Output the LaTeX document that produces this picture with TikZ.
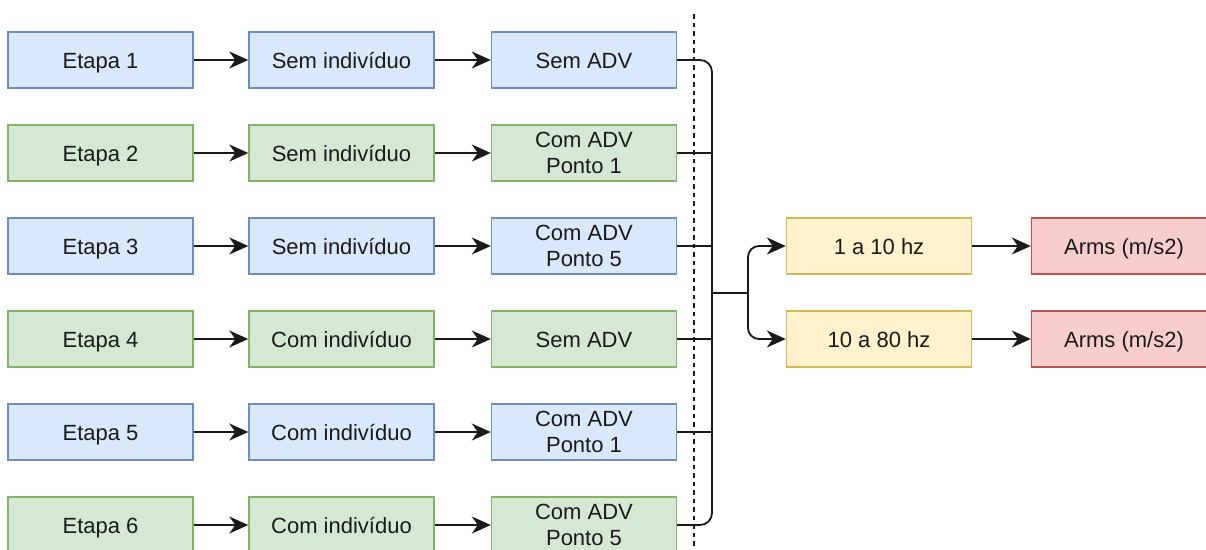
\documentclass[tikz,border=0pt]{standalone}
\usepackage{fontspec}
\setmainfont{Liberation Sans}
\usetikzlibrary{arrows.meta}

\definecolor{bluefill}{HTML}{DAE8FC}
\definecolor{bluedraw}{HTML}{6C8EBF}
\definecolor{greenfill}{HTML}{D5E8D4}
\definecolor{greendraw}{HTML}{82B366}
\definecolor{yellowfill}{HTML}{FFF2CC}
\definecolor{yellowdraw}{HTML}{D6B656}
\definecolor{redfill}{HTML}{F8CECC}
\definecolor{reddraw}{HTML}{B85450}
\definecolor{ink}{HTML}{1A1A1A}

\tikzset{
  box/.style={rectangle, minimum width=185pt, minimum height=56pt, inner sep=0pt,
    line width=1.4pt, align=center, text=ink, font=\fontsize{22}{26.5}\selectfont},
  oneline/.style={text height=18.5pt, text depth=0.8pt},
  bluebox/.style={box, fill=bluefill, draw=bluedraw},
  greenbox/.style={box, fill=greenfill, draw=greendraw},
  yellowbox/.style={box, oneline, fill=yellowfill, draw=yellowdraw},
  redbox/.style={box, oneline, fill=redfill, draw=reddraw},
  link/.style={line width=1.8pt, draw=ink},
  arr/.style={link, -{Stealth[length=19pt, width=17pt, inset=6pt]}},
  sep/.style={line width=2pt, draw=ink, dash pattern=on 4.5pt off 4pt}
}

\begin{document}
\begin{tikzpicture}[x=1pt, y=-1pt]
  \useasboundingbox (0,0) rectangle (1206,549);

  % stage rows
  \node[bluebox, oneline]  (e1) at (100.5,60)  {Etapa 1};
  \node[greenbox, oneline] (e2) at (100.5,153) {Etapa 2};
  \node[bluebox, oneline]  (e3) at (100.5,246) {Etapa 3};
  \node[greenbox, oneline] (e4) at (100.5,339) {Etapa 4};
  \node[bluebox, oneline]  (e5) at (100.5,432) {Etapa 5};
  \node[greenbox, oneline] (e6) at (100.5,525) {Etapa 6};

  \node[bluebox, oneline]  (i1) at (341.5,60)  {Sem indivíduo};
  \node[greenbox, oneline] (i2) at (341.5,153) {Sem indivíduo};
  \node[bluebox, oneline]  (i3) at (341.5,246) {Sem indivíduo};
  \node[greenbox, oneline] (i4) at (341.5,339) {Com indivíduo};
  \node[bluebox, oneline]  (i5) at (341.5,432) {Com indivíduo};
  \node[greenbox, oneline] (i6) at (341.5,525) {Com indivíduo};

  \node[bluebox, oneline]  (a1) at (584,60)  {Sem ADV};
  \node[greenbox] (a2) at (584,153) {Com ADV\\Ponto 1};
  \node[bluebox]  (a3) at (584,246) {Com ADV\\Ponto 5};
  \node[greenbox, oneline] (a4) at (584,339) {Sem ADV};
  \node[bluebox]  (a5) at (584,432) {Com ADV\\Ponto 1};
  \node[greenbox] (a6) at (584,525) {Com ADV\\Ponto 5};

  % frequency bands and results
  \node[yellowbox] (f1) at (879,246) {1 a 10 hz};
  \node[yellowbox] (f2) at (879,339) {10 a 80 hz};
  \node[redbox]    (r1) at (1124,246) {Arms (m/s2)};
  \node[redbox]    (r2) at (1124,339) {Arms (m/s2)};

  % row arrows
  \foreach \k in {1,...,6} {
    \draw[arr] (e\k) -- (i\k);
    \draw[arr] (i\k) -- (a\k);
  }

  % separator
  \coordinate (septop) at (694,14);
  \coordinate (sepbot) at (694,549);
  \draw[sep] (septop) -- (sepbot);

  % collecting bus
  \coordinate (bus) at (712,293);
  \coordinate (split) at (748,293);
  \draw[link, rounded corners=12pt] (a1.east) -| (bus) |- (a6.east);
  \foreach \k in {2,...,5} {
    \draw[link] (a\k.east) -- (a\k.east -| bus);
  }
  \draw[link] (bus) -- (split);
  \draw[arr, rounded corners=11pt] (split) |- (f1.west);
  \draw[arr, rounded corners=11pt] (split) |- (f2.west);

  \draw[arr] (f1) -- (r1);
  \draw[arr] (f2) -- (r2);
\end{tikzpicture}
\end{document}
